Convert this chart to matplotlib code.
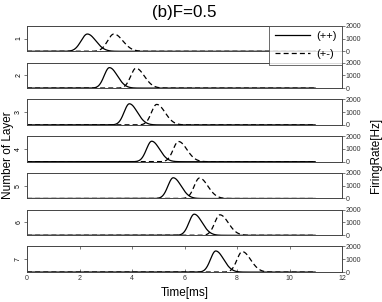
import numpy as np
import matplotlib
matplotlib.use("Agg")
import matplotlib.pyplot as plt
from matplotlib.lines import Line2D

plt.rcParams['font.family'] = ['Liberation Sans', 'DejaVu Sans']

# ---- data ----
layers = [1, 2, 3, 4, 5, 6, 7]
peak_pp = [2.30, 3.14, 3.90, 4.75, 5.57, 6.37, 7.19]   # (++) peak time [ms]
peak_pm = [3.31, 4.15, 4.94, 5.77, 6.57, 7.35, 8.20]   # (+-) peak time [ms]
amp_pp = [1350, 1600, 1650, 1600, 1620, 1650, 1650]    # (++) peak rate [Hz]
amp_pm = [1350, 1550, 1600, 1580, 1600, 1600, 1600]    # (+-) peak rate [Hz]
rise_pp = [0.24, 0.20, 0.20, 0.20, 0.20, 0.20, 0.20]   # rise width [ms]
fall_pp = [0.32, 0.30, 0.30, 0.30, 0.30, 0.30, 0.30]   # decay width [ms]
rise_pm = [0.24, 0.20, 0.20, 0.20, 0.20, 0.20, 0.20]
fall_pm = [0.34, 0.32, 0.32, 0.32, 0.32, 0.32, 0.32]
t_end = 11.0
xticks = [0, 2, 4, 6, 8, 10, 12]
rate_ticks = [0, 1000, 2000]
legend_labels = ['(++)', '(+-)']

t = np.linspace(0, t_end, 2201)


def pulse(tt, peak, amp, rise, fall):
    s = np.where(tt < peak, rise, fall)
    return amp * np.exp(-0.5 * ((tt - peak) / s) ** 2)


W, H = 382, 302
fig = plt.figure(figsize=(W / 100, H / 100), dpi=100)

left_px, right_px = 27, 342
top0, step, h = 25.7, 36.8, 25.6
spine_col = '#444444'

axes = []
for i, lay in enumerate(layers):
    top = top0 + i * step
    ax = fig.add_axes([left_px / W, 1 - (top + h) / H, (right_px - left_px) / W, h / H])
    axes.append(ax)
    y1 = pulse(t, peak_pp[i], amp_pp[i], rise_pp[i], fall_pp[i])
    y2 = pulse(t, peak_pm[i], amp_pm[i], rise_pm[i], fall_pm[i])
    ax.plot(t, y1, color='black', lw=0.9, solid_capstyle='butt')
    ax.plot(t, y2, color='black', lw=0.9, ls=(0, (4, 2.5)))
    ax.set_xlim(0, 12)
    ax.set_ylim(0, 2000)
    for sp in ax.spines.values():
        sp.set_color(spine_col)
        sp.set_linewidth(0.7)
    ax.set_yticks([1000])
    ax.set_yticklabels([str(lay)], rotation=90, va='center', fontsize=5)
    ax.tick_params(axis='y', length=2, width=0.5, color=spine_col, pad=1.5)
    ax2 = ax.twinx()
    ax2.set_ylim(0, 2000)
    ax2.set_yticks(rate_ticks)
    ax2.set_yticklabels([str(v) for v in rate_ticks], fontsize=5, color='#333333')
    ax2.tick_params(axis='y', length=2, width=0.5, color=spine_col, pad=0.6)
    for sp in ax2.spines.values():
        sp.set_visible(False)
    if i == len(layers) - 1:
        ax.set_xticks(xticks)
        ax.set_xticklabels([str(v) for v in xticks], fontsize=5, color='#333333')
        ax.tick_params(axis='x', direction='in', length=2, width=0.5,
                       color=spine_col, top=True, pad=2)
    else:
        ax.set_xticks([])

fig.text(0.5 * (left_px + right_px) / W, 1 - 12 / H, '(b)F=0.5', ha='center',
         va='center', fontsize=12.2)
fig.text(0.5 * (left_px + right_px) / W, 1 - 293 / H, 'Time[ms]', ha='center',
         va='center', fontsize=8.5)
fig.text(8 / W, 1 - 155 / H, 'Number of Layer', rotation=90, ha='center',
         va='center', fontsize=8.5)
fig.text(376 / W, 1 - 155 / H, 'FiringRate[Hz]', rotation=90, ha='center',
         va='center', fontsize=8.5)

handles = [Line2D([], [], color='black', lw=0.9),
           Line2D([], [], color='black', lw=0.9, ls=(0, (4, 2.5)))]
leg = fig.legend(handles, legend_labels, loc='upper right',
                 bbox_to_anchor=(right_px / W, 1 - 25.7 / H),
                 fontsize=8, frameon=True, fancybox=False, handlelength=3.2,
                 borderpad=0.5, labelspacing=0.7, handletextpad=0.5,
                 borderaxespad=0)
leg.get_frame().set_edgecolor(spine_col)
leg.get_frame().set_linewidth(0.7)

fig.savefig('out.png', dpi=100)
